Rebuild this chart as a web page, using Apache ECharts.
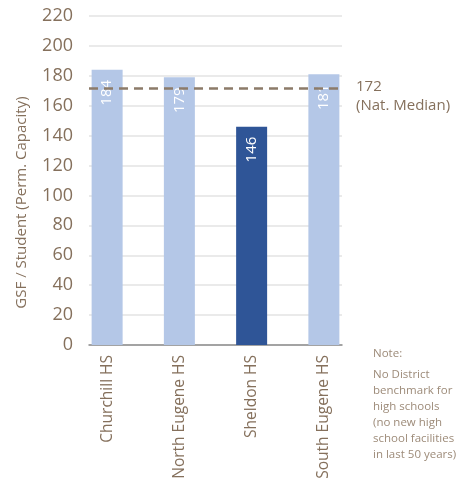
<!DOCTYPE html>
<html><head><meta charset="utf-8">
<script src="https://cdn.jsdelivr.net/npm/echarts@6/dist/echarts.min.js"></script>
<style>html,body{margin:0;padding:0;background:#fff}#c{width:458px;height:484px}</style>
</head><body><div id="c"></div>
<script>
const categories = ['Churchill HS', 'North Eugene HS', 'Sheldon HS', 'South Eugene HS'];
const values = [184, 179, 146, 181];
const highlight = [false, false, true, false];
const medianValue = 172;
const medianLabel = '(Nat. Median)';
const yTicks = { min: 0, max: 220, interval: 20 };
const yTitle = 'GSF / Student (Perm. Capacity)';
const noteLines = ['No District', 'benchmark for', 'high schools', '(no new high', 'school facilities', 'in last 50 years)'];

const brown = '#85705c';
const font = '"Open Sans", sans-serif';
const chart = echarts.init(document.getElementById('c'));
const graphics = [{ type: 'text', left: 373, top: 348, style: { text: 'Note:', fill: '#9d8b79', font: '11.5px ' + font } }];
noteLines.forEach((t, i) => graphics.push({ type: 'text', left: 373, top: 369 + i * 16, style: { text: t, fill: '#9d8b79', font: '11.5px ' + font } }));

chart.setOption({
  animation: false,
  textStyle: { fontFamily: font },
  grid: [
    { left: 89, right: 116, top: 16, bottom: 139 },
    { left: 71, right: 98, top: 16, bottom: 139 }
  ],
  xAxis: [
    { type: 'category', gridIndex: 0, data: categories, axisLine: { lineStyle: { color: '#8c8c8c', width: 1.5 } }, axisTick: { show: false }, axisLabel: { show: false } },
    { type: 'category', gridIndex: 1, data: categories, axisLine: { show: false }, axisTick: { show: false },
      axisLabel: { rotate: 90, color: brown, fontSize: 15.5, margin: 10, fontFamily: font } }
  ],
  yAxis: [
    { type: 'value', gridIndex: 0, min: yTicks.min, max: yTicks.max, interval: yTicks.interval,
      axisLabel: { color: brown, fontSize: 18, margin: 16, fontFamily: font },
      splitLine: { lineStyle: { color: '#e3e3e3', width: 1.5 } },
      axisLine: { show: false }, axisTick: { show: false },
      name: yTitle, nameLocation: 'middle', nameGap: 60, nameRotate: 90,
      nameTextStyle: { color: brown, fontSize: 15, fontFamily: font, padding: [0, 44, 0, 0] } },
    { type: 'value', gridIndex: 1, min: yTicks.min, max: yTicks.max, interval: yTicks.interval, show: false, splitLine: { show: false } }
  ],
  series: [
    { type: 'bar', xAxisIndex: 1, yAxisIndex: 1, barWidth: 31,
      data: values.map((v, i) => ({ value: v, itemStyle: { color: highlight[i] ? '#2f5597' : '#b4c7e7' } })),
      label: { show: true, position: 'insideTop', rotate: 90, align: 'right', verticalAlign: 'middle', distance: 10,
        color: '#fff', fontSize: 15, fontFamily: font }, z: 2 },
    { type: 'line', xAxisIndex: 0, yAxisIndex: 0, data: [], z: 5,
      markLine: { silent: true, symbol: 'none', z: 5,
        lineStyle: { type: [9, 6], color: '#8c7b69', width: 2.5 },
        label: { position: 'end', distance: 14, formatter: medianValue + '\n' + medianLabel, color: brown,
          fontSize: 15, lineHeight: 19, offset: [0, 8], fontFamily: font, align: 'left' },
        data: [{ yAxis: medianValue }] } }
  ],
  graphic: graphics
});
</script></body></html>
